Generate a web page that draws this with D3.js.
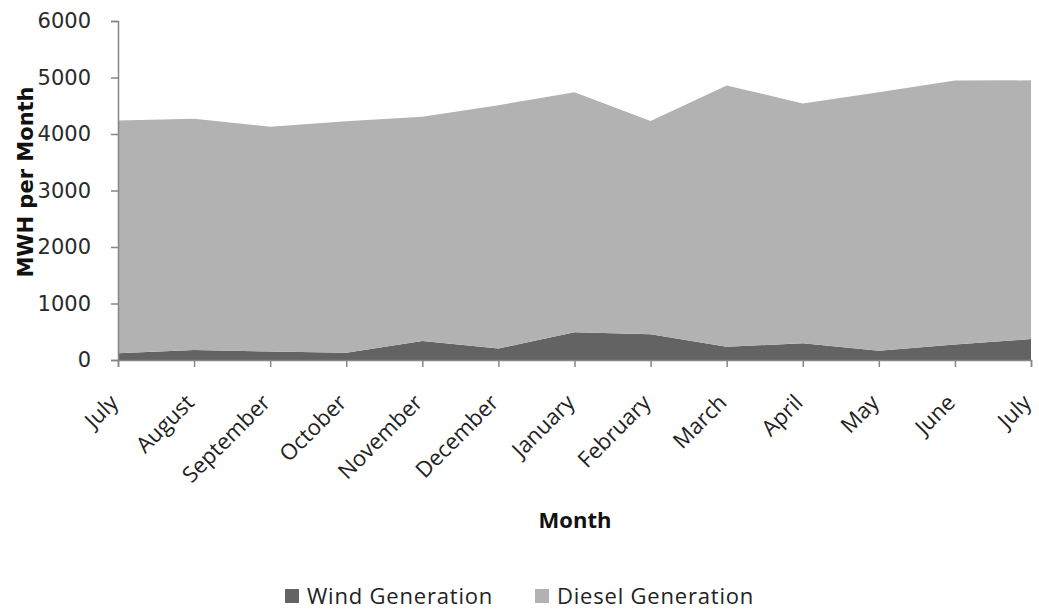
<!DOCTYPE html>
<html>
<head>
<meta charset="utf-8">
<script src="https://cdn.jsdelivr.net/npm/d3@7"></script>
<style>
  html, body { margin: 0; padding: 0; background: #ffffff; }
  svg { display: block; }
</style>
</head>
<body>
<svg id="chart" width="1039" height="610"></svg>
<script>
// Monthly generation, July through the following July (MWh)
const months = ["July", "August", "September", "October", "November", "December",
                "January", "February", "March", "April", "May", "June", "July"];
const windGeneration   = [120, 175, 150, 130, 335, 205, 490, 455, 235, 295, 165, 275, 370];
const dieselGeneration = [4120, 4095, 3980, 4095, 3970, 4305, 4250, 3775, 4625, 4245, 4575, 4670, 4580];
const yTicks = [0, 1000, 2000, 3000, 4000, 5000, 6000];
const seriesNames = ["Wind Generation", "Diesel Generation"];
const seriesColors = ["#636363", "#b2b2b2"];

const svg = d3.select("#chart");
const axisColor = "#868686";
const labelFont = "'Open Sans', 'Liberation Sans', sans-serif";

const rows = months.map((m, i) => ({ i, wind: windGeneration[i], diesel: dieselGeneration[i] }));
const stack = d3.stack().keys(["wind", "diesel"]);
const layers = stack(rows);

const x = d3.scalePoint().domain(d3.range(months.length)).range([118, 1031]);
const y = d3.scaleLinear().domain([0, 6000]).range([360, 21]);

const area = d3.area()
  .x(d => x(d.data.i))
  .y0(d => y(d[0]))
  .y1(d => y(d[1]))
  .curve(d3.curveLinear);

svg.append("g").selectAll("path")
  .data(layers)
  .join("path")
  .attr("d", area)
  .attr("fill", (d, k) => seriesColors[k]);

// Y axis
const yAxis = svg.append("g")
  .attr("transform", "translate(118,0)")
  .call(d3.axisLeft(y).tickValues(yTicks).tickSize(7).tickPadding(20).tickFormat(d3.format("d")));
yAxis.select(".domain").attr("stroke", axisColor).attr("stroke-width", 1.5);
yAxis.selectAll(".tick line").attr("stroke", axisColor).attr("stroke-width", 1.5);
yAxis.selectAll("text")
  .attr("fill", "#2a2a2a")
  .attr("font-family", "'DejaVu Sans', Verdana, sans-serif")
  .attr("font-size", 21);

// X axis
const xAxis = svg.append("g")
  .attr("transform", "translate(0,360)")
  .call(d3.axisBottom(x).tickSize(7).tickFormat(i => months[i]));
xAxis.select(".domain").attr("stroke", axisColor).attr("stroke-width", 1.5);
xAxis.selectAll(".tick line").attr("stroke", axisColor).attr("stroke-width", 1.5);
xAxis.selectAll("text")
  .attr("fill", "#222")
  .attr("font-family", labelFont)
  .attr("font-size", 22)
  .attr("text-anchor", "end")
  .attr("dy", 0)
  .attr("y", 0)
  .attr("transform", "translate(1,44) rotate(-45)");

// Axis titles
svg.append("text")
  .attr("transform", "translate(33,182) rotate(-90)")
  .attr("text-anchor", "middle")
  .attr("font-family", "'DejaVu Sans', Verdana, sans-serif")
  .attr("font-weight", "bold")
  .attr("font-size", 21)
  .attr("fill", "#111")
  .text("MWH per Month");

svg.append("text")
  .attr("x", 575)
  .attr("y", 528)
  .attr("text-anchor", "middle")
  .attr("font-family", labelFont)
  .attr("font-weight", "bold")
  .attr("font-size", 22)
  .attr("fill", "#111")
  .text("Month");

// Legend
const legendX = [285, 535];
const legend = svg.append("g").selectAll("g")
  .data(seriesNames)
  .join("g")
  .attr("transform", (d, k) => `translate(${legendX[k]},589)`);
legend.append("rect")
  .attr("width", 14).attr("height", 14)
  .attr("fill", (d, k) => seriesColors[k]);
legend.append("text")
  .attr("x", 22).attr("y", 15)
  .attr("font-family", labelFont)
  .attr("font-size", 22)
  .attr("letter-spacing", 0.8)
  .attr("fill", "#222")
  .text(d => d);
</script>
</body>
</html>
